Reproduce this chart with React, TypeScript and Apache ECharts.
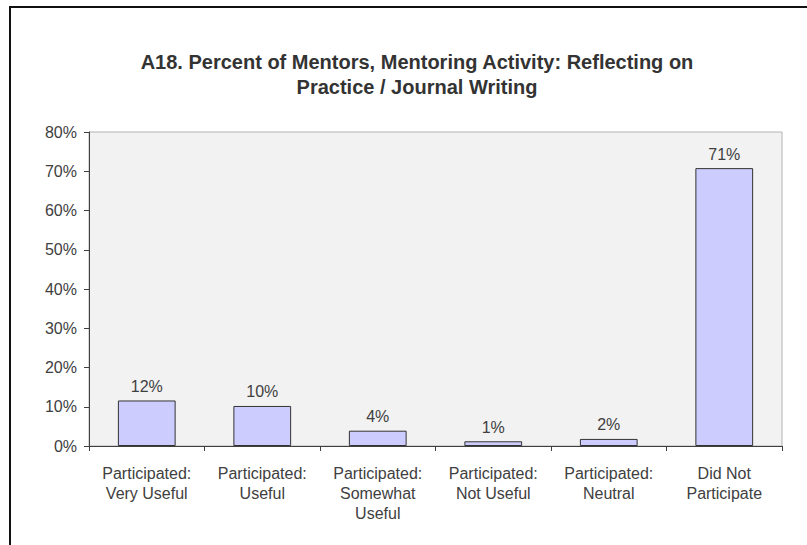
import React, { useEffect, useRef } from "react";
import * as echarts from "echarts";

const categories = [
  "Participated:\nVery Useful",
  "Participated:\nUseful",
  "Participated:\nSomewhat\nUseful",
  "Participated:\nNot Useful",
  "Participated:\nNeutral",
  "Did Not\nParticipate",
];
const percentValues = [11.6, 10.2, 3.9, 1.2, 1.8, 70.8];
const valueLabels = ["12%", "10%", "4%", "1%", "2%", "71%"];
const titleLines = [
  "A18. Percent of Mentors, Mentoring Activity: Reflecting on",
  "Practice / Journal Writing",
];

const FONT = "Arial, 'Liberation Sans', sans-serif";

export default function App() {
  const ref = useRef<HTMLDivElement>(null);
  useEffect(() => {
    if (!ref.current) return;
    const chart = echarts.init(ref.current, null, { renderer: "svg" });
    chart.setOption({
      animation: false,
      backgroundColor: "#ffffff",
      title: {
        text: titleLines.join("\n"),
        left: 412,
        top: 44,
        textAlign: "center",
        textStyle: {
          fontFamily: FONT,
          fontSize: 20,
          fontWeight: "bold",
          color: "#333333",
          lineHeight: 25,
        },
      },
      graphic: [
        {
          type: "line",
          shape: { x1: 10, y1: 7, x2: 807, y2: 7 },
          style: { stroke: "#111111", lineWidth: 2 },
          silent: true,
        },
        {
          type: "line",
          shape: { x1: 10, y1: 6, x2: 10, y2: 545 },
          style: { stroke: "#111111", lineWidth: 2 },
          silent: true,
        },
      ],
      grid: {
        left: 89,
        right: 25,
        top: 132,
        bottom: 99,
        show: true,
        backgroundColor: "#f2f2f2",
        borderColor: "#b3b3b3",
        borderWidth: 1,
      },
      xAxis: {
        type: "category",
        data: categories,
        boundaryGap: true,
        axisLine: { lineStyle: { color: "#404040", width: 1 } },
        axisTick: { show: true, length: 5, lineStyle: { color: "#404040" } },
        axisLabel: {
          interval: 0,
          margin: 17,
          fontFamily: FONT,
          fontSize: 16,
          lineHeight: 20,
          color: "#404040",
        },
      },
      yAxis: {
        type: "value",
        min: 0,
        max: 80,
        interval: 10,
        splitLine: { show: false },
        axisLine: { show: true, lineStyle: { color: "#404040", width: 1 } },
        axisTick: { show: true, length: 5, lineStyle: { color: "#404040" } },
        axisLabel: {
          formatter: "{value}%",
          margin: 12,
          fontFamily: FONT,
          fontSize: 16,
          color: "#404040",
        },
      },
      series: [
        {
          type: "bar",
          data: percentValues,
          barWidth: "50%",
          itemStyle: {
            color: "#ccccff",
            borderColor: "#333333",
            borderWidth: 1,
          },
          label: {
            show: true,
            position: "top",
            distance: 6,
            fontFamily: FONT,
            fontSize: 16,
            color: "#404040",
            formatter: (p: any) => valueLabels[p.dataIndex],
          },
        },
      ],
    });
    return () => chart.dispose();
  }, []);
  return (
    <div
      ref={ref}
      style={{ position: "fixed", left: 0, top: 0, width: 807, height: 545 }}
    />
  );
}
